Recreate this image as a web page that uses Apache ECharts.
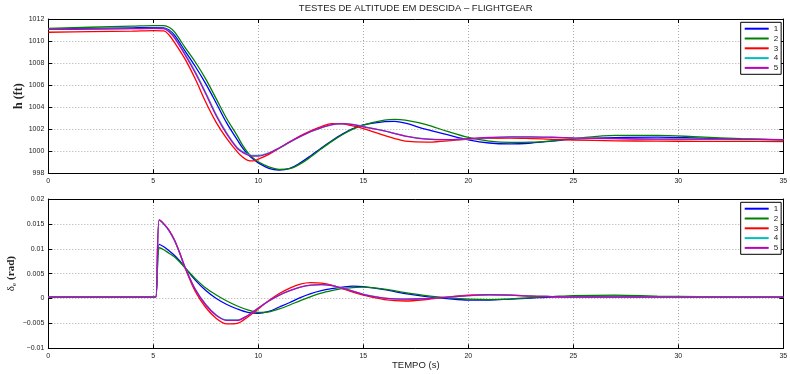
<!DOCTYPE html>
<html>
<head>
<meta charset="utf-8">
<script src="https://cdn.jsdelivr.net/npm/echarts@6/dist/echarts.min.js"></script>
<style>html,body{margin:0;padding:0;background:#fff}#c{width:790px;height:374px}</style>
</head>
<body>
<div id="c"></div>
<script>
// ---------- data ----------
const seriesNames = ['1', '2', '3', '4', '5'];
const seriesColors = ['#0000ff', '#008000', '#ff0000', '#00bfbf', '#bf00bf'];

const xTicks = [0, 5, 10, 15, 20, 25, 30, 35];
const yTicksTop = [998, 1000, 1002, 1004, 1006, 1008, 1010, 1012];
const yTicksBottom = [-0.01, -0.005, 0, 0.005, 0.01, 0.015, 0.02];

// top plot: altitude h (ft)
const tTop = [0, 2, 4, 5, 5.5, 5.75, 6, 6.5, 7, 7.5, 8, 8.5, 9, 9.25, 9.5, 9.75, 10, 10.5, 11, 11.5, 12, 12.5, 13, 13.5, 14, 14.5, 15, 16, 16.5, 17, 18, 19, 20, 21, 22, 23, 24, 25, 27, 29, 31, 33, 35];
const h1 = [1011.10, 1011.15, 1011.20, 1011.22, 1011.20, 1011.00, 1010.55, 1009.13, 1007.69, 1006.12, 1004.36, 1002.55, 1001.03, 1000.30, 999.72, 999.30, 998.95, 998.45, 998.30, 998.45, 998.95, 999.60, 1000.30, 1000.95, 1001.55, 1002.05, 1002.40, 1002.68, 1002.72, 1002.55, 1001.98, 1001.50, 1001.04, 1000.75, 1000.67, 1000.75, 1000.92, 1001.10, 1001.24, 1001.28, 1001.20, 1001.10, 1001.04];
const h2 = [1011.15, 1011.25, 1011.35, 1011.40, 1011.40, 1011.25, 1010.85, 1009.45, 1008.10, 1006.55, 1004.75, 1002.95, 1001.40, 1000.55, 999.88, 999.40, 999.05, 998.58, 998.36, 998.42, 998.85, 999.50, 1000.22, 1000.90, 1001.50, 1002.00, 1002.38, 1002.82, 1002.90, 1002.82, 1002.42, 1001.80, 1001.25, 1000.92, 1000.80, 1000.82, 1000.95, 1001.16, 1001.45, 1001.45, 1001.30, 1001.15, 1001.04];
const h3 = [1010.80, 1010.85, 1010.90, 1010.95, 1010.92, 1010.55, 1009.90, 1008.40, 1006.55, 1004.45, 1002.60, 1001.15, 999.95, 999.48, 999.18, 999.12, 999.28, 999.72, 1000.27, 1000.85, 1001.40, 1001.85, 1002.24, 1002.50, 1002.48, 1002.30, 1002.06, 1001.45, 1001.15, 1000.92, 1000.82, 1000.95, 1001.10, 1001.18, 1001.20, 1001.15, 1001.08, 1001.02, 1000.95, 1000.92, 1000.90, 1000.90, 1000.88];
const h4 = [1011.05, 1011.08, 1011.12, 1011.15, 1011.13, 1010.90, 1010.40, 1008.88, 1007.20, 1005.30, 1003.30, 1001.65, 1000.32, 999.98, 999.74, 999.62, 999.62, 999.85, 1000.30, 1000.82, 1001.32, 1001.78, 1002.13, 1002.40, 1002.50, 1002.44, 1002.25, 1001.85, 1001.62, 1001.38, 1001.12, 1001.05, 1001.12, 1001.22, 1001.28, 1001.28, 1001.25, 1001.20, 1001.14, 1001.10, 1001.08, 1001.06, 1001.05];
const h5 = [1011.05, 1011.08, 1011.12, 1011.15, 1011.12, 1010.85, 1010.30, 1008.78, 1007.10, 1005.20, 1003.20, 1001.55, 1000.25, 999.90, 999.66, 999.56, 999.56, 999.82, 1000.30, 1000.85, 1001.35, 1001.80, 1002.15, 1002.42, 1002.50, 1002.42, 1002.22, 1001.85, 1001.60, 1001.38, 1001.10, 1001.05, 1001.15, 1001.25, 1001.30, 1001.30, 1001.27, 1001.22, 1001.15, 1001.10, 1001.10, 1001.08, 1001.05];

// bottom plot: elevator deflection (rad)
const tBot = [0, 2, 4, 5, 5.12, 5.28, 5.5, 5.75, 6, 6.25, 6.5, 7, 7.5, 8, 8.5, 9, 9.5, 10, 10.5, 11, 11.5, 12, 12.5, 13, 13.5, 14, 14.5, 15, 16, 17, 18, 19, 20, 21, 22, 23, 24, 25, 27, 29, 31, 33, 35];
const d1 = [0.0003, 0.0003, 0.0003, 0.0003, 0.0003, 0.0109, 0.0104, 0.0096, 0.0087, 0.0076, 0.0063, 0.0037, 0.0016, 0.0000, -0.0012, -0.0021, -0.0028, -0.0030, -0.0026, -0.0017, -0.0008, 0.0002, 0.0010, 0.0016, 0.0020, 0.0023, 0.0025, 0.0024, 0.0018, 0.0010, 0.0004, 0.0000, -0.0003, -0.0003, -0.0001, 0.0001, 0.0003, 0.0004, 0.0005, 0.0004, 0.0003, 0.0003, 0.0003];
const d2 = [0.0004, 0.0004, 0.0004, 0.0004, 0.0004, 0.0102, 0.0098, 0.0091, 0.0084, 0.0074, 0.0062, 0.0040, 0.0021, 0.0007, -0.0005, -0.0015, -0.0023, -0.0028, -0.0027, -0.0021, -0.0013, -0.0004, 0.0004, 0.0011, 0.0016, 0.0020, 0.0022, 0.0023, 0.0019, 0.0012, 0.0006, 0.0002, -0.0001, -0.0002, -0.0001, 0.0002, 0.0004, 0.0006, 0.0007, 0.0005, 0.0004, 0.0003, 0.0003];
const d3 = [0.0003, 0.0003, 0.0003, 0.0003, 0.0003, 0.0158, 0.0150, 0.0137, 0.0118, 0.0092, 0.0063, 0.0014, -0.0018, -0.0040, -0.0051, -0.0050, -0.0037, -0.0021, -0.0004, 0.0010, 0.0021, 0.0029, 0.0032, 0.0031, 0.0027, 0.0020, 0.0013, 0.0007, -0.0002, -0.0005, -0.0002, 0.0003, 0.0007, 0.0008, 0.0007, 0.0005, 0.0004, 0.0003, 0.0003, 0.0003, 0.0003, 0.0003, 0.0003];
const d4 = [0.0003, 0.0003, 0.0003, 0.0003, 0.0003, 0.0157, 0.0149, 0.0136, 0.0117, 0.0092, 0.0064, 0.0019, -0.0012, -0.0033, -0.0043, -0.0043, -0.0034, -0.0019, -0.0005, 0.0007, 0.0016, 0.0023, 0.0027, 0.0028, 0.0026, 0.0021, 0.0015, 0.0009, 0.0001, -0.0001, 0.0000, 0.0003, 0.0006, 0.0007, 0.0007, 0.0005, 0.0004, 0.0003, 0.0003, 0.0003, 0.0003, 0.0003, 0.0003];
const d5 = [0.0003, 0.0003, 0.0003, 0.0003, 0.0003, 0.0158, 0.0150, 0.0137, 0.0118, 0.0093, 0.0064, 0.0018, -0.0013, -0.0034, -0.0044, -0.0044, -0.0034, -0.0019, -0.0005, 0.0007, 0.0016, 0.0023, 0.0027, 0.0028, 0.0026, 0.0021, 0.0015, 0.0008, 0.0001, -0.0001, 0.0000, 0.0003, 0.0006, 0.0008, 0.0007, 0.0005, 0.0004, 0.0003, 0.0003, 0.0003, 0.0003, 0.0003, 0.0003];

const topData = [h1, h2, h3, h4, h5];
const botData = [d1, d2, d3, d4, d5];

// ---------- chart ----------
const chart = echarts.init(document.getElementById('c'), null, {renderer: 'canvas'});
const FONT = '"Liberation Sans", Arial, Helvetica, sans-serif';
const SERIF = '"Liberation Serif", "DejaVu Serif", serif';
const TXT = '#222';

const gridTop = {left: 48.3, right: 6.7, top: 19, height: 154.3, containLabel: false, outerBoundsMode: 'none'};
const gridBot = {left: 48.3, right: 6.7, top: 199, height: 149.3, containLabel: false, outerBoundsMode: 'none'};

function fmtNum(v) {
  if (Math.abs(v) < 1e-12) return '0';
  return String(+v.toFixed(4)).replace('-', '\u2212');
}

function mainAxisCommon(ticks) {
  return {
    type: 'value',
    min: ticks[0],
    max: ticks[ticks.length - 1],
    interval: ticks[1] - ticks[0],
    nameMoveOverlap: false,
    axisLine: {show: true, onZero: false, lineStyle: {color: '#000', width: 1}},
    axisTick: {show: true, inside: true, length: 4, lineStyle: {color: '#000', width: 1}},
    splitLine: {show: true, lineStyle: {color: '#aaaaaa', width: 1, type: [1, 2]}},
    axisLabel: {show: true, fontSize: 7, color: TXT, fontFamily: FONT, margin: 4, formatter: fmtNum, showMinLabel: true, showMaxLabel: true}
  };
}
function mirrorAxis(ticks, pos, gi) {
  return {
    type: 'value', gridIndex: gi, position: pos,
    min: ticks[0], max: ticks[ticks.length - 1], interval: ticks[1] - ticks[0],
    axisLine: {show: true, onZero: false, lineStyle: {color: '#000', width: 1}},
    axisTick: {show: true, inside: true, length: 4, lineStyle: {color: '#000', width: 1}},
    splitLine: {show: false},
    axisLabel: {show: false}
  };
}

const xAxes = [
  Object.assign(mainAxisCommon(xTicks), {gridIndex: 0, position: 'bottom'}),
  mirrorAxis(xTicks, 'top', 0),
  Object.assign(mainAxisCommon(xTicks), {gridIndex: 1, position: 'bottom',
    name: 'TEMPO (s)', nameLocation: 'middle', nameGap: 12,
    nameTextStyle: {fontSize: 9.5, color: TXT, fontFamily: FONT}}),
  mirrorAxis(xTicks, 'top', 1)
];
const yAxes = [
  Object.assign(mainAxisCommon(yTicksTop), {gridIndex: 0, position: 'left',
    name: 'h (ft)', nameLocation: 'middle', nameGap: 23,
    nameTextStyle: {fontSize: 12, fontWeight: 'bold', color: TXT, fontFamily: SERIF}}),
  mirrorAxis(yTicksTop, 'right', 0),
  Object.assign(mainAxisCommon(yTicksBottom), {gridIndex: 1, position: 'left',
    name: '{d|\u03b4}{s|e} {b|(rad)}', nameLocation: 'middle', nameGap: 31,
    nameTextStyle: {color: TXT, fontFamily: SERIF,
      rich: {
        d: {fontSize: 11, fontFamily: SERIF, color: TXT},
        s: {fontSize: 7, fontFamily: SERIF, color: TXT, padding: [5, 0, 0, 0]},
        b: {fontSize: 11, fontWeight: 'bold', fontFamily: SERIF, color: TXT}
      }}}),
  mirrorAxis(yTicksBottom, 'right', 1)
];

const series = [];
seriesNames.forEach((nm, k) => {
  series.push({
    name: nm, type: 'line', xAxisIndex: 0, yAxisIndex: 0,
    data: tTop.map((t, i) => [t, topData[k][i]]),
    showSymbol: false, smooth: 0.35, color: seriesColors[k],
    lineStyle: {width: 1.3, color: seriesColors[k]}, z: 2 + k
  });
});
seriesNames.forEach((nm, k) => {
  series.push({
    name: nm, type: 'line', xAxisIndex: 2, yAxisIndex: 2,
    data: tBot.map((t, i) => [t, botData[k][i]]),
    showSymbol: false, smooth: 0.3, color: seriesColors[k],
    lineStyle: {width: 1.3, color: seriesColors[k]}, z: 2 + k
  });
});

function legendAt(top) {
  return {
    data: seriesNames, orient: 'vertical', left: 740.7, top: top,
    icon: 'rect', itemWidth: 24, itemHeight: 2, itemGap: 0,
    backgroundColor: '#fff', borderColor: '#000', borderWidth: 1,
    padding: [1.5, 3, 1.5, 4],
    textStyle: {fontSize: 8, color: TXT, fontFamily: FONT, lineHeight: 9.8},
    selectedMode: false
  };
}

chart.setOption({
  animation: false,
  backgroundColor: '#fff',
  grid: [gridTop, gridBot],
  xAxis: xAxes,
  yAxis: yAxes,
  legend: [legendAt(22.3), legendAt(202.3)],
  graphic: [{
    type: 'text', x: 415.7, y: 3,
    style: {text: 'TESTES DE ALTITUDE EM DESCIDA \u2013 FLIGHTGEAR', fontSize: 9.5, fontFamily: FONT, fill: TXT, align: 'center', textAlign: 'center', verticalAlign: 'top'}
  }],
  series: series
});
</script>
</body>
</html>
